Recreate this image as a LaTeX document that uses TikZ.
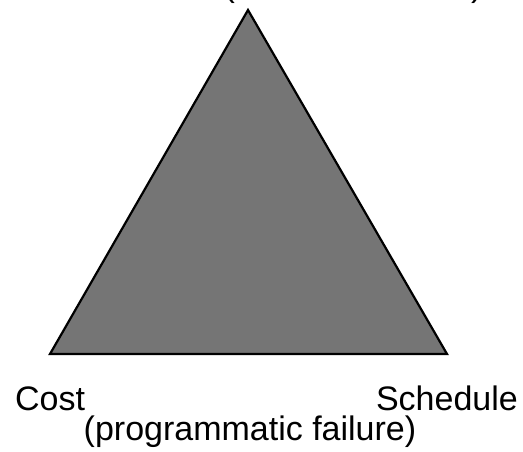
\documentclass[tikz,border=0pt]{standalone}
\usepackage{fontspec}
\setmainfont{Liberation Sans}
\usepackage{tikz}

\begin{document}
\begin{tikzpicture}[x=1pt,y=-1pt,
        lbl/.style={inner sep=0pt,font=\fontsize{34}{40}\selectfont}]
        \clip (0,0) rectangle (523,452);
        \coordinate (top) at (248,10);
        \coordinate (cost) at (50,354);
        \coordinate (sched) at (447,354);
        \filldraw[fill=black!54,draw=black,line width=2.2pt,line join=miter]
            (top) -- (cost) -- (sched) -- cycle;
        \node[lbl,anchor=base] (tech) at (353,-3.5) {(technical failure)};
        \node[lbl,anchor=base west] (costlbl) at (15,410) {Cost};
        \node[lbl,anchor=base east] (schedlbl) at (518,410) {Schedule};
        \node[lbl,anchor=base] (prog) at (250,440) {(programmatic failure)};
    \end{tikzpicture}
\end{document}
